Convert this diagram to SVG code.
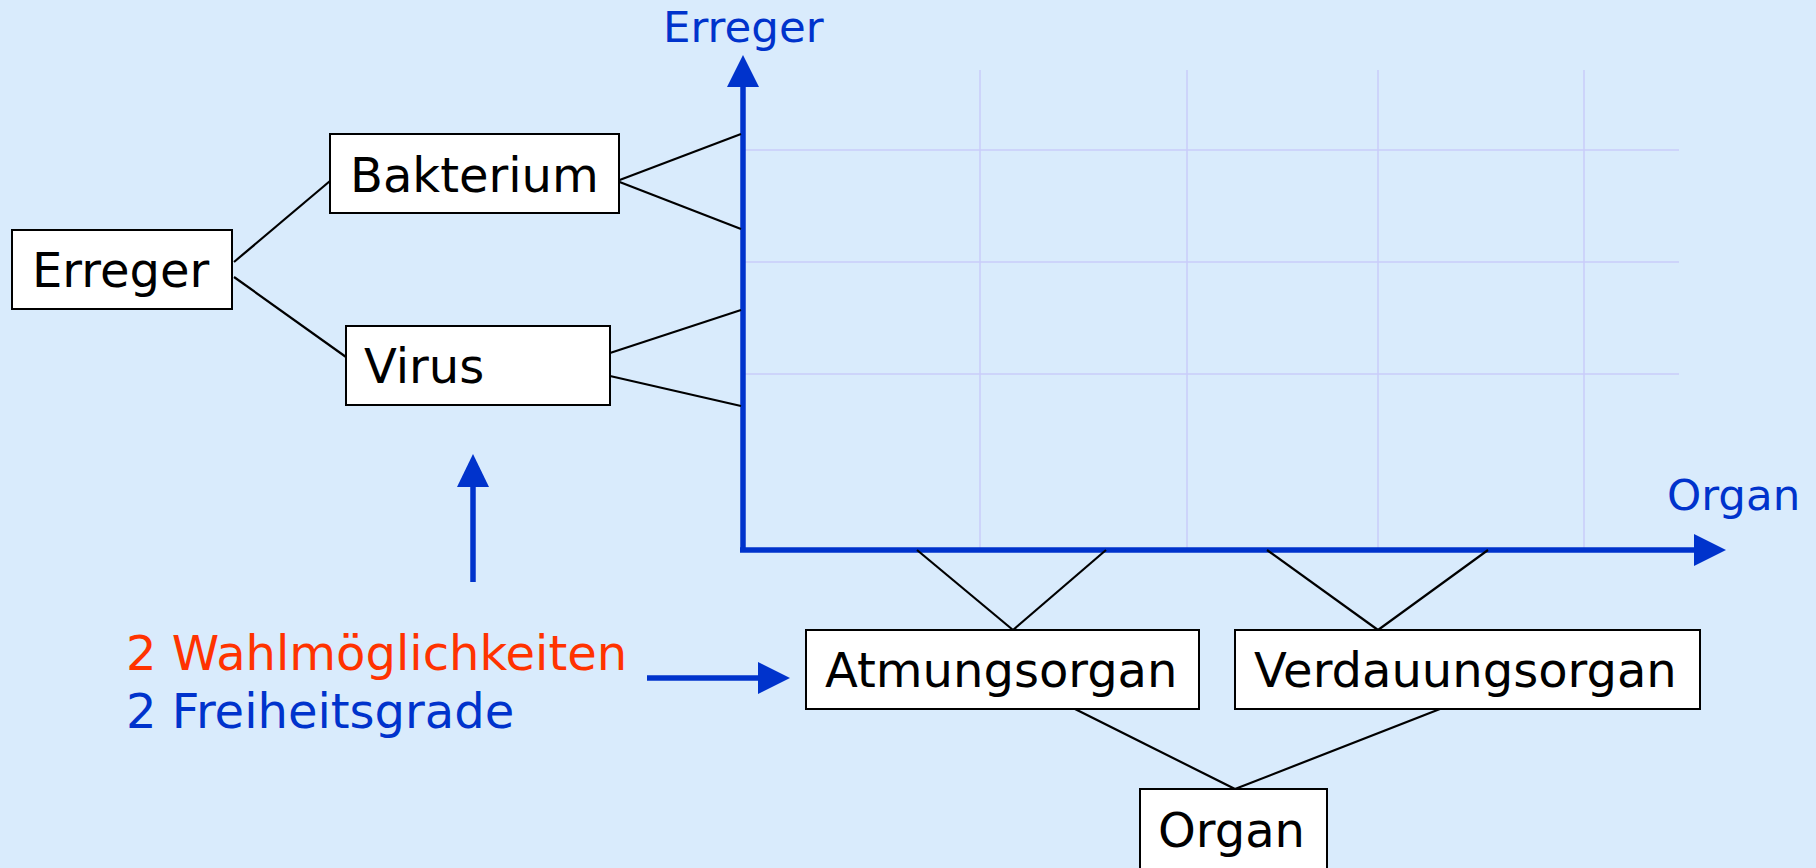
<svg xmlns="http://www.w3.org/2000/svg" width="1816" height="868" viewBox="0 0 1816 868">
  <defs>
    <style>
      .box { fill: #ffffff; stroke: #000000; stroke-width: 2; }
      .lbl { font-family: "DejaVu Sans", Verdana, sans-serif; font-size: 48px; fill: #000000; }
      .axl { font-family: "DejaVu Sans", Verdana, sans-serif; font-size: 43.5px; fill: #0033CC; }
      .note { font-family: "DejaVu Sans", Verdana, sans-serif; font-size: 48px; }
      .link { stroke: #000000; stroke-width: 2.2; fill: none; }
      .grid { stroke: #C8CDFA; stroke-width: 1.5; fill: none; }
      .axis { stroke: #0033CC; stroke-width: 5.5; fill: none; }
      .head { fill: #0033CC; }
    </style>
  </defs>

  <!-- background -->
  <rect x="0" y="0" width="1816" height="868" fill="#D9EBFC"/>

  <!-- grid of the Erreger/Organ plane -->
  <g id="grid">
    <line class="grid" x1="743" y1="150" x2="1679" y2="150"/>
    <line class="grid" x1="743" y1="262" x2="1679" y2="262"/>
    <line class="grid" x1="743" y1="374" x2="1679" y2="374"/>
    <line class="grid" x1="980" y1="70" x2="980" y2="550"/>
    <line class="grid" x1="1187" y1="70" x2="1187" y2="550"/>
    <line class="grid" x1="1378" y1="70" x2="1378" y2="550"/>
    <line class="grid" x1="1584" y1="70" x2="1584" y2="550"/>
  </g>

  <!-- axes -->
  <g id="axes">
    <line class="axis" x1="743" y1="86" x2="743" y2="552"/>
    <polygon class="head" points="743,55 727,87 759,87"/>
    <line class="axis" x1="740" y1="550" x2="1696" y2="550"/>
    <polygon class="head" points="1726,550 1694,534 1694,566"/>
    <text id="axis-y" class="axl" x="663" y="42">Erreger</text>
    <text id="axis-x" class="axl" x="1667" y="510">Organ</text>
  </g>

  <!-- connectors -->
  <g id="connectors">
    <line class="link" x1="234" y1="262" x2="330" y2="181"/>
    <line class="link" x1="234" y1="277" x2="346" y2="357"/>
    <line class="link" x1="617" y1="181" x2="741" y2="134"/>
    <line class="link" x1="617" y1="181" x2="741" y2="229"/>
    <line class="link" x1="610" y1="353" x2="741" y2="310"/>
    <line class="link" x1="610" y1="376" x2="741" y2="406"/>
    <line class="link" x1="917" y1="550" x2="1013" y2="630"/>
    <line class="link" x1="1106" y1="550" x2="1013" y2="630"/>
    <line class="link" x1="1267" y1="550" x2="1378" y2="630"/>
    <line class="link" x1="1488" y1="550" x2="1378" y2="630"/>
    <line class="link" x1="1075" y1="709" x2="1235" y2="789"/>
    <line class="link" x1="1440" y1="709" x2="1235" y2="789"/>
    <!-- pointer arrows from the note -->
    <line class="axis" x1="473" y1="582" x2="473" y2="484"/>
    <polygon class="head" points="473,454 457,487 489,487"/>
    <line class="axis" x1="647" y1="678" x2="761" y2="678"/>
    <polygon class="head" points="790,678 758,662 758,694"/>
  </g>

  <!-- nodes -->
  <g id="erreger">
    <rect class="box" x="12" y="230" width="220" height="79"/>
    <text class="lbl" x="32" y="287">Erreger</text>
  </g>
  <g id="bakterium">
    <rect class="box" x="330" y="134" width="289" height="79"/>
    <text class="lbl" x="350" y="192">Bakterium</text>
  </g>
  <g id="virus">
    <rect class="box" x="346" y="326" width="264" height="79"/>
    <text class="lbl" x="364" y="383">Virus</text>
  </g>
  <g id="atmungsorgan">
    <rect class="box" x="806" y="630" width="393" height="79"/>
    <text class="lbl" x="825" y="687">Atmungsorgan</text>
  </g>
  <g id="verdauungsorgan">
    <rect class="box" x="1235" y="630" width="465" height="79"/>
    <text class="lbl" x="1254" y="687">Verdauungsorgan</text>
  </g>
  <g id="organ">
    <rect class="box" x="1140" y="789" width="187" height="100"/>
    <text class="lbl" x="1158" y="847">Organ</text>
  </g>

  <!-- note -->
  <g id="note">
    <text class="note" x="126" y="670" fill="#FF3300">2 Wahlmöglichkeiten</text>
    <text class="note" x="126" y="728" fill="#0033CC">2 Freiheitsgrade</text>
  </g>
</svg>
